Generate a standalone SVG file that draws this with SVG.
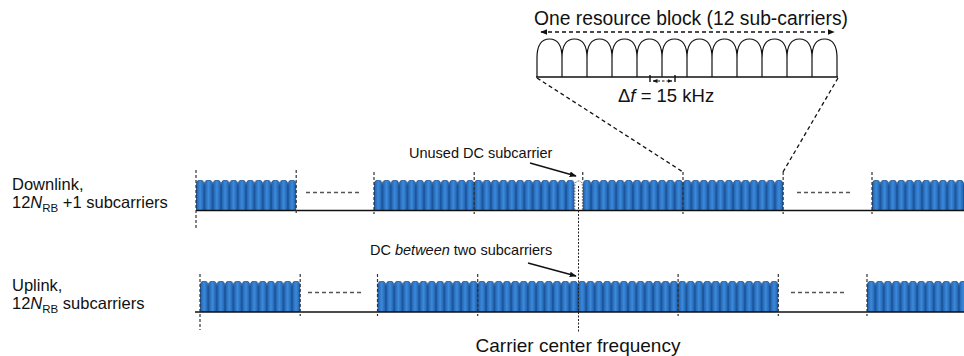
<svg xmlns="http://www.w3.org/2000/svg" width="964" height="356" viewBox="0 0 964 356">
  <style>
    .lbl { font-family: "Liberation Sans", Arial, sans-serif; fill: #111; }
    .big { font-size: 16.5px; }
    .note { font-size: 14.5px; }
    .title { font-size: 19.3px; }
    .sub { font-size: 11.5px; }
    .tick { stroke: #333; stroke-width: 1.2; stroke-dasharray: 3 2; fill: none; }
    .gap { stroke: #555; stroke-width: 1.6; stroke-dasharray: 4 3; fill: none; }
    .base { stroke: #111; stroke-width: 1.6; fill: none; }
    .arch { stroke: #111; stroke-width: 1.2; fill: none; }
    .proj { stroke: #111; stroke-width: 1.3; stroke-dasharray: 4 3; fill: none; }
    .ptr { stroke: #111; stroke-width: 1.4; fill: none; }
  </style>
  <defs>
    <linearGradient id="scFill" x1="0" y1="0" x2="1" y2="0">
      <stop offset="0" stop-color="#1d5dac"/>
      <stop offset="0.5" stop-color="#3c8ad9"/>
      <stop offset="1" stop-color="#1d5dac"/>
    </linearGradient>
    <!-- one 15 kHz subcarrier, repeated along each band -->
    <pattern id="sc" patternUnits="userSpaceOnUse" x="0" y="0" width="8.35" height="31">
      <path d="M0,31 V6 C0,1.6 1.6,0 4.175,0 C6.75,0 8.35,1.6 8.35,6 V31 Z" fill="url(#scFill)" stroke="#12396c" stroke-width="0.6"/>
    </pattern>
    <marker id="head" viewBox="0 0 10 10" refX="9" refY="5" markerWidth="7" markerHeight="7" orient="auto-start-reverse" markerUnits="userSpaceOnUse">
      <path d="M0,1 L10,5 L0,9 Z" fill="#111"/>
    </marker>
    <marker id="headS" viewBox="0 0 10 10" refX="9" refY="5" markerWidth="5" markerHeight="5" orient="auto-start-reverse" markerUnits="userSpaceOnUse">
      <path d="M0,1 L10,5 L0,9 Z" fill="#111"/>
    </marker>
  </defs>
  <rect width="964" height="356" fill="#ffffff"/>

  <!-- Resource block detail -->
  <g id="resource-block">
    <text class="lbl title" x="691" y="25" text-anchor="middle">One resource block (12 sub-carriers)</text>
    <line class="proj" x1="541" y1="32" x2="834" y2="32" marker-start="url(#head)" marker-end="url(#head)"/>
    <path class="arch" d="M537,77 V58 C537,44 542,39 549.5,39 C557,39 562,44 562,58 V77
      M562,58 C562,44 567,39 574.5,39 C582,39 587,44 587,58 V77
      M587,58 C587,44 592,39 599.5,39 C607,39 612,44 612,58 V77
      M612,58 C612,44 617,39 624.5,39 C632,39 637,44 637,58 V77
      M637,58 C637,44 642,39 649.5,39 C657,39 662,44 662,58 V77
      M662,58 C662,44 667,39 674.5,39 C682,39 687,44 687,58 V77
      M687,58 C687,44 692,39 699.5,39 C707,39 712,44 712,58 V77
      M712,58 C712,44 717,39 724.5,39 C732,39 737,44 737,58 V77
      M737,58 C737,44 742,39 749.5,39 C757,39 762,44 762,58 V77
      M762,58 C762,44 767,39 774.5,39 C782,39 787,44 787,58 V77
      M787,58 C787,44 792,39 799.5,39 C807,39 812,44 812,58 V77
      M812,58 C812,44 817,39 824.5,39 C832,39 837,44 837,58 V77"/>
    <line class="base" x1="536" y1="77" x2="838" y2="77" stroke-width="1.2"/>
    <path class="ptr" d="M650,75 V82 M675,75 V82" stroke-width="1.3"/>
    <line x1="653" y1="81" x2="672" y2="81" stroke="#111" stroke-width="1.2" stroke-dasharray="2.5 2" marker-start="url(#headS)" marker-end="url(#headS)"/>
    <text class="lbl" x="618" y="102" font-size="18.5">Δ<tspan font-style="italic">f</tspan> = 15 kHz</text>
  </g>

  <!-- Downlink band -->
  <g id="downlink">
    <text class="lbl big" x="12" y="190">Downlink,</text>
    <text class="lbl big" x="12" y="208">12<tspan font-style="italic">N</tspan><tspan class="sub" dy="4">RB</tspan><tspan dy="-4"> +1 subcarriers</tspan></text>
    <g transform="translate(196,180)"><rect width="100.2" height="31" fill="url(#sc)"/></g>
    <g transform="translate(374,180)"><rect width="200.4" height="31" fill="url(#sc)"/></g>
    <g transform="translate(582.75,180)"><rect width="200.4" height="31" fill="url(#sc)"/></g>
    <g transform="translate(872,180)"><rect width="100" height="31" fill="url(#sc)"/></g>
    <!-- unused DC subcarrier -->
    <path d="M574.8,210 V187 C574.8,182.5 576.3,181 578.6,181 C580.9,181 582.4,182.5 582.4,187 V210" fill="#fff" stroke="#444" stroke-width="0.9" stroke-dasharray="1.5 1.5"/>
    <line class="base" x1="196" y1="210.5" x2="964" y2="210.5"/>
    <line class="gap" x1="306" y1="192.5" x2="362" y2="192.5"/>
    <line class="gap" x1="797" y1="192.5" x2="853" y2="192.5"/>
    <path class="tick" d="M196,170 V230 M296.2,170 V214 M374,172 V214 M474.2,172 V214 M582.75,172 V180 M683,172 V214 M783.15,172 V214 M872,172 V214"/>
  </g>

  <!-- Uplink band -->
  <g id="uplink">
    <text class="lbl big" x="12" y="290.5">Uplink,</text>
    <text class="lbl big" x="12" y="308.5">12<tspan font-style="italic">N</tspan><tspan class="sub" dy="4">RB</tspan><tspan dy="-4"> subcarriers</tspan></text>
    <g transform="translate(200,281)"><rect width="100.2" height="31" fill="url(#sc)"/></g>
    <g transform="translate(377.5,281)"><rect width="400.8" height="31" fill="url(#sc)"/></g>
    <g transform="translate(867,281)"><rect width="100" height="31" fill="url(#sc)"/></g>
    <line class="base" x1="195" y1="312" x2="964" y2="312"/>
    <line class="gap" x1="308" y1="292.5" x2="364" y2="292.5"/>
    <line class="gap" x1="791" y1="292.5" x2="847" y2="292.5"/>
    <path class="tick" d="M200,274 V330 M300.2,274 V316 M377.5,274 V316 M477.7,274 V316 M678.1,274 V316 M778.3,274 V316 M867,274 V316"/>
  </g>

  <!-- Carrier centre -->
  <g id="carrier-center">
    <line x1="578.5" y1="186" x2="578.5" y2="332" stroke="#222" stroke-width="1" stroke-dasharray="2 1.5"/>
    <text class="lbl" x="578" y="351.5" font-size="19" text-anchor="middle">Carrier center frequency</text>
  </g>

  <g id="notes">
    <text class="lbl note" x="409" y="158">Unused DC subcarrier</text>
    <text class="lbl note" x="370" y="255">DC <tspan font-style="italic">between</tspan> two subcarriers</text>
  </g>

  <!-- Connectors -->
  <g id="connectors">
    <line class="proj" x1="537" y1="78" x2="683" y2="172"/>
    <line class="proj" x1="838" y1="78" x2="783" y2="172"/>
    <line class="ptr" x1="530" y1="163" x2="576" y2="176" marker-end="url(#head)"/>
    <line class="ptr" x1="528" y1="263" x2="576" y2="276" marker-end="url(#head)"/>
  </g>
</svg>
